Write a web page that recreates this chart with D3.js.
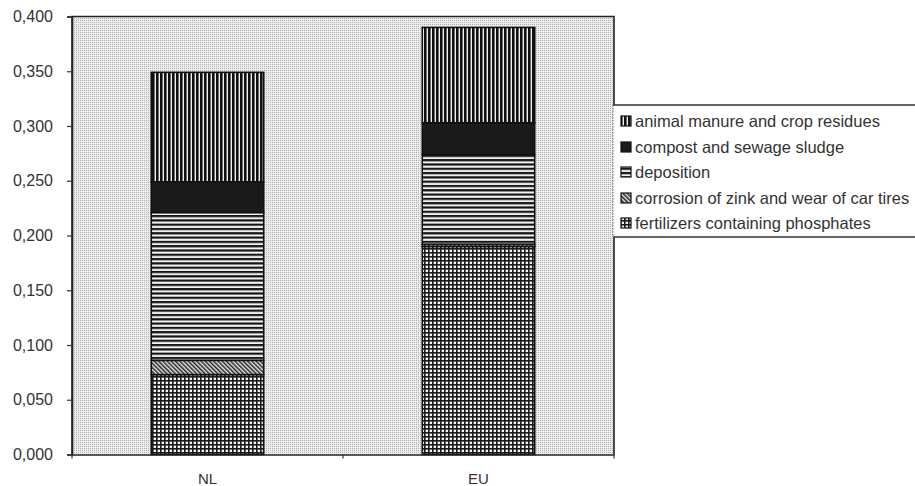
<!DOCTYPE html>
<html>
<head>
<meta charset="utf-8">
<script src="https://cdn.jsdelivr.net/npm/d3@7"></script>
<style>
  html, body { margin: 0; padding: 0; background: #ffffff; }
  svg { display: block; }
  text { font-family: "Liberation Sans", Arial, sans-serif; fill: #333; }
</style>
</head>
<body>
<svg id="chart" width="915" height="486"></svg>
<script>
// ---- data ----
const categories = ["NL", "EU"];
const seriesNames = [
  "fertilizers containing phosphates",
  "corrosion of zink and wear of car tires",
  "deposition",
  "compost and sewage sludge",
  "animal manure and crop residues"
];
const fertilizers = [0.073, 0.190];
const corrosion   = [0.013, 0.002];
const deposition  = [0.135, 0.082];
const compost     = [0.028, 0.029];
const animal      = [0.100, 0.087];
const yTicks = [0, 0.05, 0.10, 0.15, 0.20, 0.25, 0.30, 0.35, 0.40];
const legendOrder = [
  "animal manure and crop residues",
  "compost and sewage sludge",
  "deposition",
  "corrosion of zink and wear of car tires",
  "fertilizers containing phosphates"
];

const seriesValues = [fertilizers, corrosion, deposition, compost, animal];
const table = categories.map((c, i) => {
  const row = { category: c };
  seriesNames.forEach((s, j) => row[s] = seriesValues[j][i]);
  return row;
});

// ---- layout ----
const plot = { left: 72, right: 614, top: 16.5, bottom: 454.5 };
const svg = d3.select("#chart");
const defs = svg.append("defs");

// patterns
const bg = defs.append("pattern").attr("id", "bg").attr("patternUnits", "userSpaceOnUse")
  .attr("width", 2).attr("height", 2);
bg.append("rect").attr("width", 2).attr("height", 2).attr("fill", "#eeeeee");
bg.append("rect").attr("width", 1).attr("height", 1).attr("fill", "#adadad");

const pv = defs.append("pattern").attr("id", "p-animal").attr("patternUnits", "userSpaceOnUse")
  .attr("width", 4).attr("height", 4);
pv.append("rect").attr("width", 4).attr("height", 4).attr("fill", "#f2f2f2");
pv.append("rect").attr("width", 2.6).attr("height", 4).attr("fill", "#111");

const pc = defs.append("pattern").attr("id", "p-compost").attr("patternUnits", "userSpaceOnUse")
  .attr("width", 4).attr("height", 4);
pc.append("rect").attr("width", 4).attr("height", 4).attr("fill", "#1a1a1a");

const ph = defs.append("pattern").attr("id", "p-deposition").attr("patternUnits", "userSpaceOnUse")
  .attr("width", 4.3).attr("height", 4.3);
ph.append("rect").attr("width", 4.3).attr("height", 4.3).attr("fill", "#f2f2f2");
ph.append("rect").attr("width", 4.3).attr("height", 2.2).attr("fill", "#151515");

const pd = defs.append("pattern").attr("id", "p-corrosion").attr("patternUnits", "userSpaceOnUse")
  .attr("width", 3).attr("height", 3).attr("patternTransform", "rotate(-45)");
pd.append("rect").attr("width", 3).attr("height", 3).attr("fill", "#e8e8e8");
pd.append("rect").attr("width", 1.5).attr("height", 3).attr("fill", "#222");

const pg = defs.append("pattern").attr("id", "p-fertilizers").attr("patternUnits", "userSpaceOnUse")
  .attr("width", 4).attr("height", 4);
pg.append("rect").attr("width", 4).attr("height", 4).attr("fill", "#f2f2f2");
pg.append("rect").attr("width", 4).attr("height", 1.6).attr("fill", "#1a1a1a");
pg.append("rect").attr("width", 1.6).attr("height", 4).attr("fill", "#1a1a1a");

const fillFor = {
  "animal manure and crop residues": "url(#p-animal)",
  "compost and sewage sludge": "url(#p-compost)",
  "deposition": "url(#p-deposition)",
  "corrosion of zink and wear of car tires": "url(#p-corrosion)",
  "fertilizers containing phosphates": "url(#p-fertilizers)"
};

// scales
const x = d3.scaleBand().domain(categories).range([plot.left, plot.right])
  .paddingInner(0.585).paddingOuter(0.2925);
const y = d3.scaleLinear().domain([0, 0.4]).range([plot.bottom, plot.top]);

// plot background
svg.append("rect")
  .attr("x", plot.left).attr("y", plot.top)
  .attr("width", plot.right - plot.left).attr("height", plot.bottom - plot.top)
  .attr("fill", "url(#bg)");

// stacked bars
const stack = d3.stack().keys(seriesNames)(table);
const gBars = svg.append("g");
stack.forEach(layer => {
  gBars.append("g")
    .selectAll("rect")
    .data(layer)
    .join("rect")
    .attr("x", d => x(d.data.category))
    .attr("width", x.bandwidth())
    .attr("y", d => y(d[1]))
    .attr("height", d => y(d[0]) - y(d[1]))
    .attr("fill", fillFor[layer.key])
    .attr("stroke", "#111")
    .attr("stroke-width", 1.6);
});

// frame
svg.append("path")
  .attr("d", `M${plot.left},${plot.bottom}V${plot.top}H${plot.right}V${plot.bottom}`)
  .attr("fill", "none").attr("stroke", "#222").attr("stroke-width", 1.6);

// y axis
const fmt = d => d3.format(".3f")(d).replace(".", ",");
const yAxis = d3.axisLeft(y).tickValues(yTicks).tickFormat(fmt).tickSize(5).tickPadding(14);
const gy = svg.append("g").attr("transform", `translate(${plot.left},0)`).call(yAxis);
gy.select(".domain").attr("stroke", "#222").attr("stroke-width", 1.6);
gy.selectAll(".tick line").attr("stroke", "#333").attr("stroke-width", 1.2);
gy.selectAll(".tick text")
  .style("font-family", '"Liberation Sans", Arial, sans-serif')
  .style("font-size", "16px").attr("fill", "#3a3a3a");

// x axis
const xAxis = d3.axisBottom(x).tickSize(0).tickPadding(19);
const gx = svg.append("g").attr("transform", `translate(0,${plot.bottom})`).call(xAxis);
gx.select(".domain").attr("stroke", "#222").attr("stroke-width", 1.6);
gx.selectAll(".tick text")
  .style("font-family", '"Liberation Sans", Arial, sans-serif')
  .style("font-size", "15px").attr("fill", "#3a3a3a");
// category boundary ticks
const bounds = [plot.left, (x("NL") + x.bandwidth() + x("EU")) / 2, plot.right];
svg.append("g").selectAll("line").data(bounds).join("line")
  .attr("x1", d => d).attr("x2", d => d)
  .attr("y1", plot.bottom).attr("y2", plot.bottom + 4)
  .attr("stroke", "#333").attr("stroke-width", 1.2);

// legend
const lg = svg.append("g");
const lx = 613, ly = 105, lh = 132;
lg.append("rect").attr("x", lx).attr("y", ly).attr("width", 320).attr("height", lh)
  .attr("fill", "#ffffff");
lg.append("line").attr("x1", lx).attr("x2", 915).attr("y1", ly).attr("y2", ly)
  .attr("stroke", "#333").attr("stroke-width", 1.4);
lg.append("line").attr("x1", lx).attr("x2", 915).attr("y1", ly + lh).attr("y2", ly + lh)
  .attr("stroke", "#333").attr("stroke-width", 1.4);
lg.append("line").attr("x1", lx).attr("x2", lx).attr("y1", ly).attr("y2", ly + lh)
  .attr("stroke", "#666").attr("stroke-width", 1).attr("stroke-dasharray", "1.5,1.5");

const rowY = [121, 147, 172, 198, 223];
legendOrder.forEach((name, i) => {
  lg.append("rect").attr("x", 621).attr("y", rowY[i] - 5).attr("width", 10).attr("height", 10)
    .attr("fill", fillFor[name]).attr("stroke", "#111").attr("stroke-width", 1.2);
  lg.append("text").attr("x", 635).attr("y", rowY[i]).attr("dy", "0.35em")
    .style("font-size", "16.5px").attr("fill", "#2a2a2a").text(name);
});
</script>
</body>
</html>
